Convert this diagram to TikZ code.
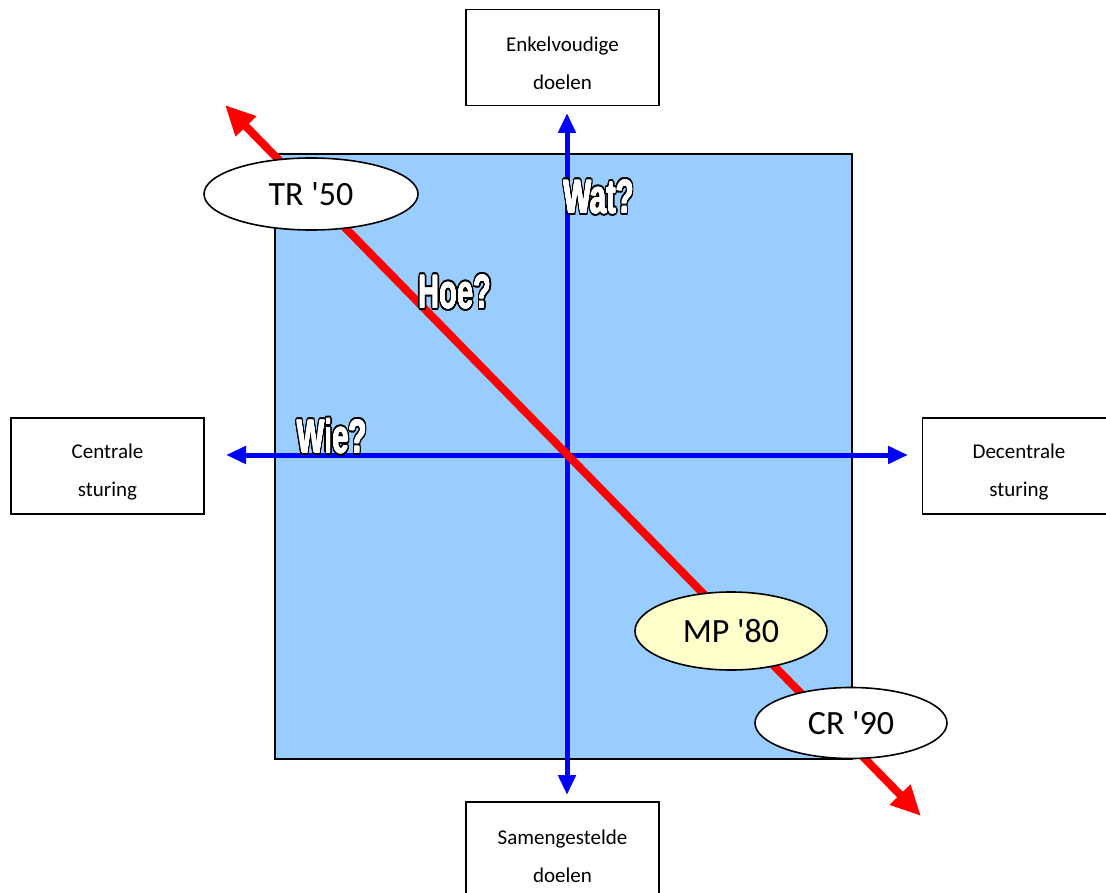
\documentclass[tikz,border=0pt]{standalone}
\usepackage{fontspec}
\setmainfont{Carlito}
\newfontfamily\artfont{Liberation Sans}[BoldFont={* Bold}]
\usetikzlibrary{arrows.meta,shapes.geometric}
\definecolor{fieldblue}{HTML}{99CCFF}
\definecolor{axisblue}{HTML}{0000FF}
\definecolor{eraRed}{HTML}{FF0000}
\definecolor{paleyellow}{HTML}{FFFFCC}
\tikzset{
  labelbox/.style={draw=black,line width=1.6pt,fill=white,minimum width=193,minimum height=96,inner sep=0pt},
  boxtext/.style={inner sep=0pt,align=center,font=\fontsize{21}{38}\selectfont},
  era/.style={ellipse,draw=black,line width=1.6pt,fill=white,inner sep=0pt,
    font=\fontsize{34}{40}\selectfont},
  axis/.style={draw=axisblue,line width=5pt,{Triangle[length=20pt,width=17pt]}-{Triangle[length=20pt,width=17pt]}},
  trend/.style={draw=eraRed,line width=8pt,{Triangle[length=30pt,width=27pt]}-{Triangle[length=30pt,width=27pt]}},
  wordart/.style={inner sep=0pt,font=\artfont\bfseries\fontsize{47}{47}\selectfont,xscale=0.62},
}
\newcommand\yr{\textquotesingle}
% question words: heavy white letters with a black outline
\newcommand\outlinedword[3]{%
  \foreach \ang in {0,15,...,345}
    \node[wordart,text=black,shift={(\ang:2.6)}] at (#1) {#3};
  \foreach \ang in {0,45,...,315}
    \node[wordart,text=white,shift={(\ang:0.6)}] at (#1) {#3};
  \node[wordart,text=white] (#2) at (#1) {#3};}
\begin{document}
\begin{tikzpicture}[x=1pt,y=-1pt]
\useasboundingbox (0,0) rectangle (1106,893);
\clip (0,0) rectangle (1106,893);
% field
\node[draw=black,line width=1.6pt,fill=fieldblue,minimum width=577,minimum height=605,inner sep=0pt]
  (field) at (563.5,456.5) {};
% outer labels
\node[labelbox] (top) at (562.5,57.5) {};
\node[boxtext] (topText) at ([yshift=-6pt]top.center) {Enkelvoudige\\doelen};
\node[labelbox] (bottom) at (562.5,850) {};
\node[boxtext] (bottomText) at ([yshift=-6.5pt]bottom.center) {Samengestelde\\doelen};
\node[labelbox] (left) at (107.5,466) {};
\node[boxtext] (leftText) at ([yshift=-6pt]left.center) {Centrale\\sturing};
\node[labelbox] (right) at (1019,466) {};
\node[boxtext] (rightText) at ([yshift=-6pt]right.center) {Decentrale\\sturing};
% axes
\coordinate (n) at (567,113);
\coordinate (s) at (567,795);
\coordinate (w) at (226,455);
\coordinate (e) at (908,455);
\draw[axis] (s) -- (n);
\draw[axis] (w) -- (e);
% trend line
\coordinate (nw) at (225,105);
\coordinate (se) at (921,816);
\draw[trend] (nw) -- (se);
% eras
\node[era,minimum width=214,minimum height=72] (tr) at (311,194) {TR \yr50};
\node[era,fill=paleyellow,minimum width=192,minimum height=78] (mp) at (731,631) {MP \yr80};
\node[era,minimum width=192,minimum height=71] (cr) at (851,723) {CR \yr90};
% questions
\outlinedword{599,197}{wat}{Wat?}
\outlinedword{455,292}{hoe}{Hoe?}
\outlinedword{332,436}{wie}{Wie?}
\end{tikzpicture}
\end{document}
